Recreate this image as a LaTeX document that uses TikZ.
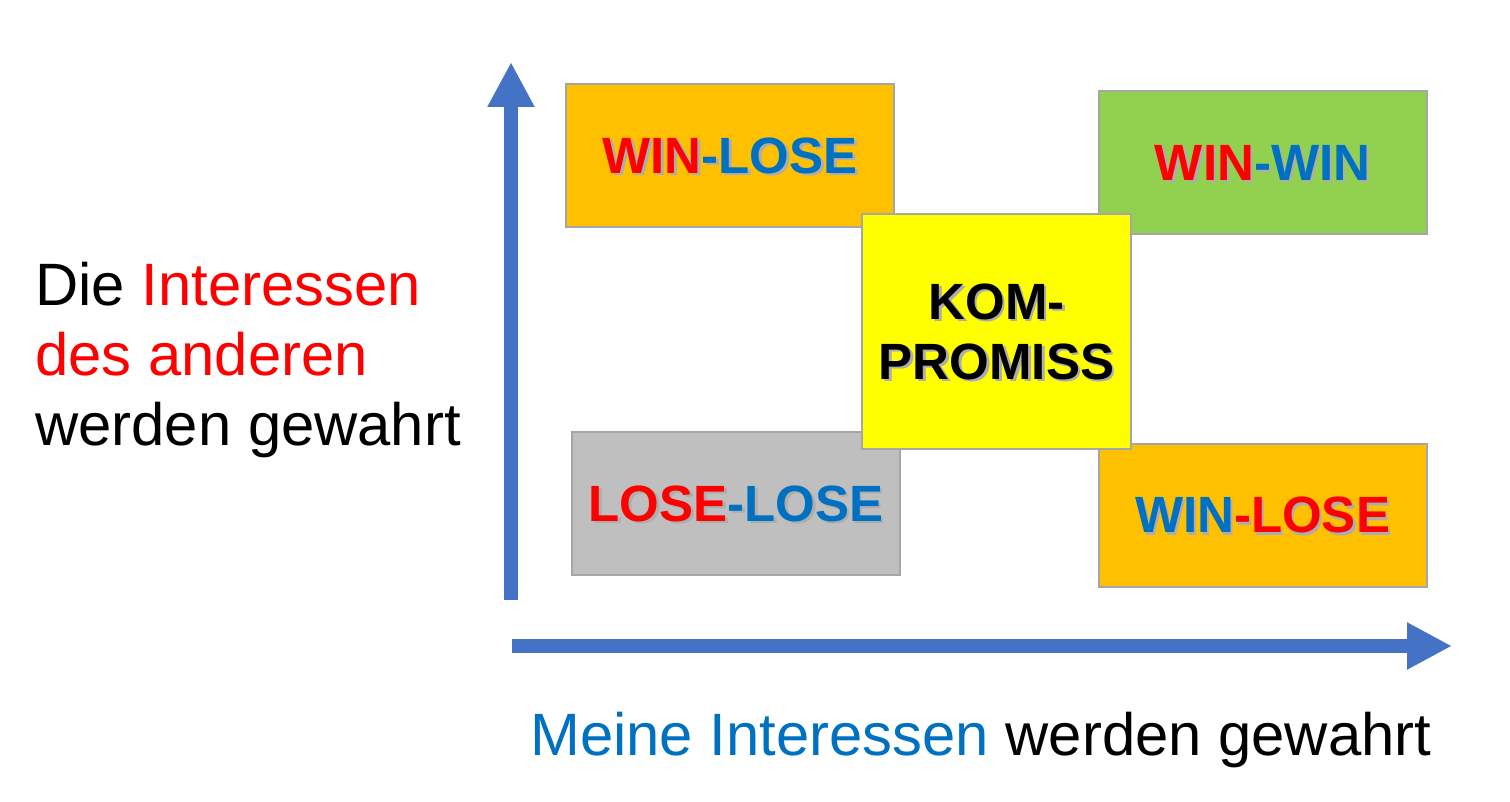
\documentclass[tikz,border=0pt]{standalone}
\usepackage{fontspec}
\setmainfont{Liberation Sans}
\usetikzlibrary{arrows.meta}
\newcommand\cRed{\color{wred}}
\newcommand\cBlue{\color{wblue}}
\newcommand\shad[1]{\rlap{\kern1.3pt\raisebox{-1.3pt}{\let\cRed\relax\let\cBlue\relax\color{black!32}#1}}#1}
\begin{document}
\begin{tikzpicture}[x=0.5pt,y=-0.5pt,
  fieldbox/.style={draw=boxgray,line width=1pt,minimum width=164pt,minimum height=71.5pt,inner sep=0pt,text depth=0pt,font=\bfseries\fontsize{25.5}{30}\selectfont},
  axis/.style={axisblue,line width=7pt,-{Triangle[width=22pt,length=22.5pt]}},
  labeltext/.style={inner sep=0pt,font=\fontsize{29.9}{35}\selectfont}]
\definecolor{wred}{HTML}{FF0000}
\definecolor{wblue}{HTML}{0070C0}
\definecolor{axisblue}{HTML}{4472C4}
\definecolor{boxgray}{HTML}{A6A6A6}
\definecolor{orangefill}{HTML}{FFC000}
\definecolor{greenfill}{HTML}{92D050}
\definecolor{grayfill}{HTML}{BFBFBF}
\definecolor{yellowfill}{HTML}{FFFF00}
\useasboundingbox (0,0) rectangle (1510,802);
\coordinate (ybot) at (511,600);
\coordinate (ytop) at (511,62);
\coordinate (xleft) at (512,646);
\coordinate (xright) at (1452,646);
\draw[axis] (ybot) -- (ytop);
\draw[axis] (xleft) -- (xright);
\node[labeltext,anchor=west,align=left] (ylab) at (35,360) {Die {\cRed Interessen}\\{\cRed des anderen}\\werden gewahrt};
\node[labeltext,anchor=base west] (xlab) at (530,755) {{\cBlue Meine Interessen} werden gewahrt};
\node[fieldbox,fill=orangefill] (winlose) at (730,155.5) {\shad{{\cRed WIN}{\cBlue -LOSE}}};
\node[fieldbox,fill=greenfill] (winwin) at (1262.5,162.5) {\shad{{\cRed WIN}{\cBlue -WIN}}};
\node[fieldbox,fill=grayfill] (loselose) at (736,503.5) {\shad{{\cRed LOSE}{\cBlue -LOSE}}};
\node[fieldbox,fill=orangefill] (losewin) at (1262.5,515) {\shad{{\cBlue WIN}{\cRed -LOSE}}};
\node[fieldbox,fill=yellowfill,minimum width=134.5pt,minimum height=117.5pt,align=center] (kompromiss) at (996.5,331.5) {\shad{KOM-}\\\shad{PROMISS}};
\end{tikzpicture}
\end{document}
